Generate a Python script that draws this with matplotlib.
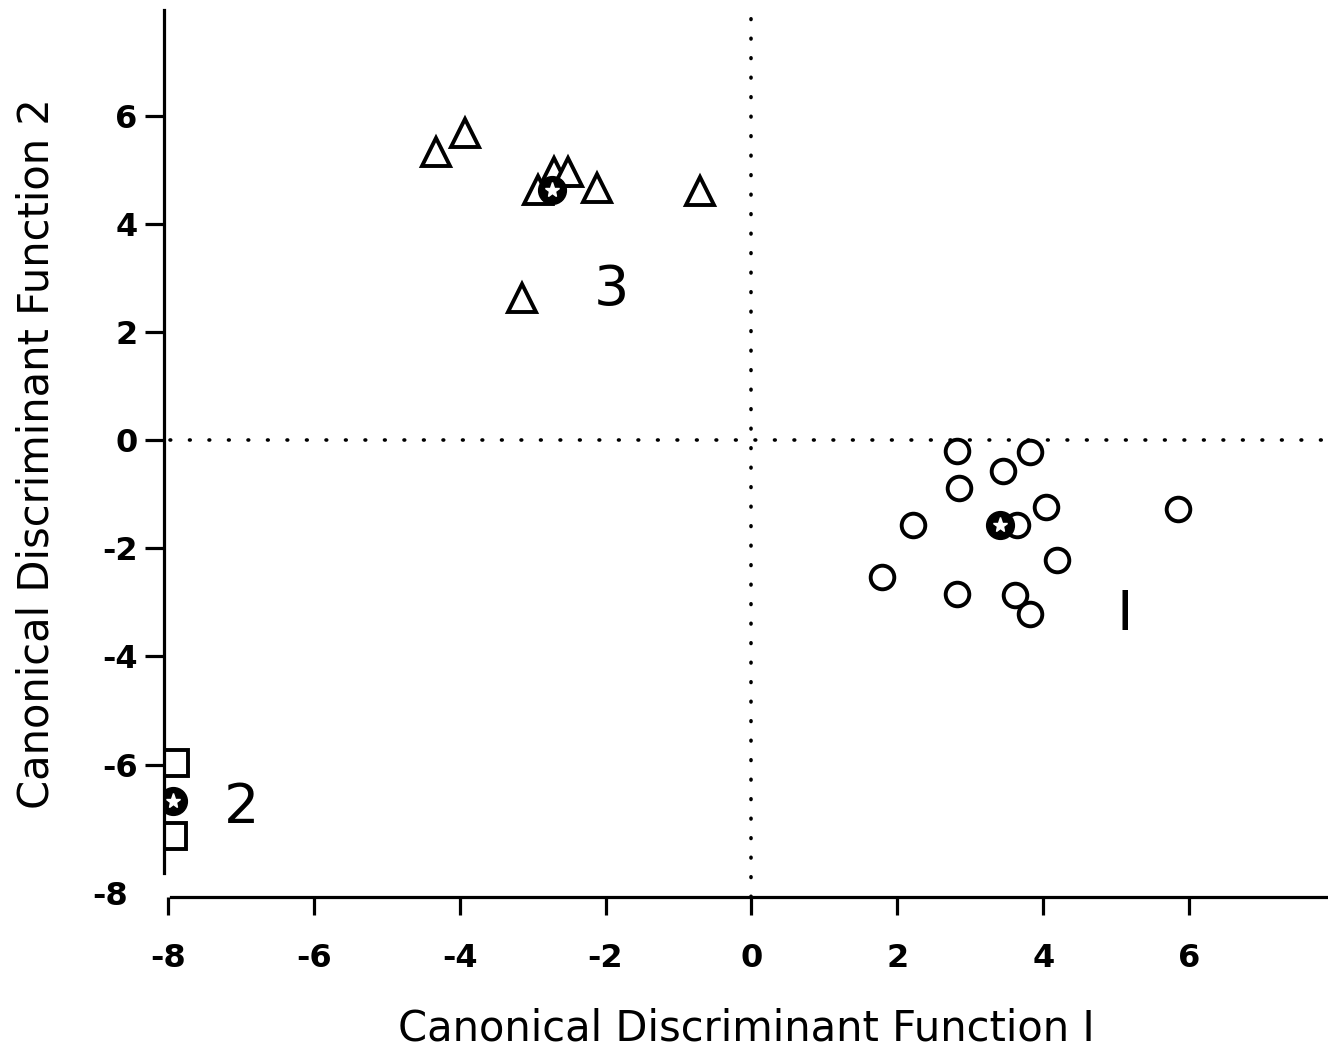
import matplotlib
matplotlib.use("Agg")
import matplotlib.pyplot as plt

# Data
g3_x = [-4.32, -3.92, -2.71, -2.52, -2.93, -2.12, -0.70, -3.14]
g3_y = [5.33, 5.69, 4.96, 4.96, 4.63, 4.67, 4.61, 2.63]

g1_x = [2.82, 3.82, 3.44, 2.84, 4.03, 5.85, 2.21, 3.64, 4.19, 1.79, 2.81, 3.61, 3.81]
g1_y = [-0.20, -0.22, -0.57, -0.89, -1.24, -1.28, -1.56, -1.57, -2.22, -2.53, -2.84, -2.87, -3.22]

g2_x = [-7.90, -7.93]
g2_y = [-5.98, -7.33]

cent_x = [3.41, -2.74, -7.93]
cent_y = [-1.56, 4.63, -6.67]

group_labels = ["I", "2", "3"]
group_label_x = [5.12, -6.99, -1.92]
group_label_y = [-3.24, -6.81, 2.78]

xticks = [-8, -6, -4, -2, 0, 2, 4, 6]
yticks = [-6, -4, -2, 0, 2, 4, 6]

plt.rcParams['font.family'] = ['DejaVu Sans']

fig = plt.figure(figsize=(13.28, 10.59), dpi=100)
ybot = -8.45
ax = fig.add_axes([0.1235, 0.1530, 0.8765, 0.8376])
ax.set_xlim(-8.05, 7.9)
ax.set_ylim(ybot, 7.96)

lw = 2.3
for s in ['top', 'right']:
    ax.spines[s].set_visible(False)
ax.spines['left'].set_linewidth(lw)
ax.spines['bottom'].set_linewidth(lw)
ax.spines['left'].set_bounds(-8.0, 7.96)
ax.spines['bottom'].set_bounds(-7.95, 7.9)

dot = dict(color='black', lw=2.6, linestyle=(0, (0.2, 5.2)), dash_capstyle='round')
ax.plot([0, 0], [ybot, 7.96], **dot)
ax.axhline(0, xmin=0.005, **dot)

mk = dict(linestyle='none', markerfacecolor='white', markeredgecolor='black', markeredgewidth=2.8)
ax.plot(g3_x, g3_y, marker='^', markersize=20, **mk)
ax.plot(g1_x, g1_y, marker='o', markersize=17, **mk)
ax.plot(g2_x, g2_y, marker='s', markersize=19, **mk)

ax.plot(cent_x, cent_y, linestyle='none', marker='o', markersize=20, color='black')
ax.plot(cent_x, cent_y, linestyle='none', marker='*', markersize=11,
        markerfacecolor='white', markeredgecolor='white')

for t, x, y in zip(group_labels, group_label_x, group_label_y):
    ax.text(x, y, t, fontsize=40, ha='center', va='center', fontweight='normal')

ax.set_xticks(xticks)
ax.set_xticklabels([str(v) for v in xticks])
ax.set_yticks(yticks)
ax.set_yticklabels([str(v) for v in yticks])
ax.tick_params(axis='x', direction='out', length=13, width=lw, labelsize=23, pad=20)
ax.tick_params(axis='y', direction='out', length=14, width=lw, labelsize=23, pad=5)
for lab in ax.get_xticklabels() + ax.get_yticklabels():
    lab.set_fontweight('bold')
ax.text(-8.55, ybot, "-8", fontsize=23, fontweight='bold', ha='right', va='center')

ax.set_xlabel("Canonical Discriminant Function I", fontsize=30, labelpad=24)
ax.set_ylabel("Canonical Discriminant Function 2", fontsize=30, labelpad=32)

fig.savefig("out.png", dpi=100)
